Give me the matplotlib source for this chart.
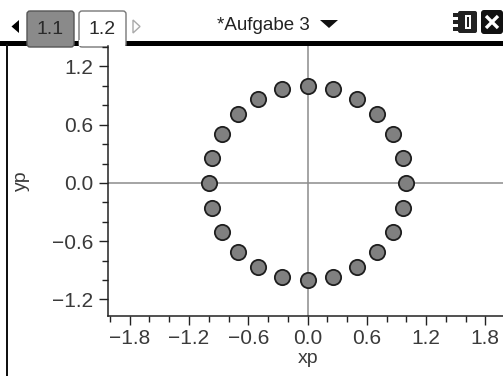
import matplotlib.pyplot as plt
from matplotlib.patches import FancyBboxPatch, Polygon, Rectangle
from matplotlib.ticker import MultipleLocator

plt.rcParams['font.family'] = ['Liberation Sans', 'DejaVu Sans']

# points of the list xp / yp (24 points, 15 degree steps on the unit circle)
xp = [1.0, 0.966, 0.866, 0.707, 0.5, 0.259, 0.0, -0.259, -0.5, -0.707, -0.866, -0.966,
      -1.0, -0.966, -0.866, -0.707, -0.5, -0.259, 0.0, 0.259, 0.5, 0.707, 0.866, 0.966]
yp = [0.0, 0.259, 0.5, 0.707, 0.866, 0.966, 1.0, 0.966, 0.866, 0.707, 0.5, 0.259,
      0.0, -0.259, -0.5, -0.707, -0.866, -0.966, -1.0, -0.966, -0.866, -0.707, -0.5, -0.259]

x_ticks = [-1.8, -1.2, -0.6, 0.0, 0.6, 1.2, 1.8]
y_ticks = [-1.2, -0.6, 0.0, 0.6, 1.2]
tabs = ['1.1', '1.2']
title = '*Aufgabe 3'

W, H = 503, 376
fig = plt.figure(figsize=(W / 100, H / 100), dpi=100)
fig.patch.set_facecolor('white')

# screen frame drawn in pixel units
ui = fig.add_axes([0, 0, 1, 1], zorder=0)
ui.set_xlim(0, W)
ui.set_ylim(H, 0)
ui.axis('off')

# black bar under the tab row, open below the active tab
ui.add_patch(Rectangle((0, 41), W, 4.5, color='black', lw=0))
# left frame line
ui.add_patch(Rectangle((6, 44), 2.2, H - 44, color='#111111', lw=0))

# page tabs
ui.add_patch(FancyBboxPatch((27, 11), 47, 36, boxstyle='round,pad=0,rounding_size=3',
                            fc='#8a8a8a', ec='#555555', lw=1.0, zorder=2))
ui.add_patch(FancyBboxPatch((79, 11), 47, 36, boxstyle='round,pad=0,rounding_size=3',
                            fc='white', ec='#777777', lw=1.0, zorder=2))
ui.add_patch(Rectangle((79.5, 40), 46, 6, color='white', lw=0, zorder=3))
ui.text(50.5, 29, tabs[0], ha='center', va='center', fontsize=14, color='#2a2a2a', zorder=4)
ui.text(102.5, 29, tabs[1], ha='center', va='center', fontsize=14, color='#2a2a2a', zorder=4)
ui.add_patch(Polygon([(19, 20), (19, 33), (11.5, 26.5)], closed=True, color='black', lw=0))
ui.add_patch(Polygon([(133, 20), (133, 33), (140, 26.5)], closed=True, fc='white',
                     ec='#aaaaaa', lw=1.0))

# document title
ui.text(263.5, 25.5, title, ha='center', va='center', fontsize=13.5, color='#222222')
ui.add_patch(Polygon([(320, 20), (338, 20), (329, 28)], closed=True, color='#111111', lw=0))

# battery / close icons
ui.add_patch(FancyBboxPatch((458, 11), 19, 22, boxstyle='round,pad=0,rounding_size=2',
                            fc='#222222', ec='none'))
ui.add_patch(Rectangle((465, 15), 6, 14, fc='white', ec='none'))
ui.add_patch(Rectangle((467, 17), 2, 10, fc='#222222', ec='none'))
for yy in (13, 20, 27):
    ui.add_patch(Rectangle((453, yy), 6, 4, color='#222222', lw=0))
ui.add_patch(FancyBboxPatch((481, 10), 22, 24, boxstyle='round,pad=0,rounding_size=3',
                            fc='#111111', ec='none'))
ui.plot([486, 498], [16, 28], color='white', lw=2.4, solid_capstyle='butt')
ui.plot([486, 498], [28, 16], color='white', lw=2.4, solid_capstyle='butt')

# scatter plot
ax = fig.add_axes([108 / W, 1 - 316 / H, 1 - 108 / W + 0.01, (316 - 46) / H], zorder=1)
ax.set_xlim(-2.02, 2.03)
ax.set_ylim(-1.37, 1.41)

ax.axhline(0, color='#8c8c8c', lw=1.1, zorder=1)
ax.axvline(0, color='#8c8c8c', lw=1.1, zorder=1)
ax.plot(xp, yp, 'o', ms=11, mfc='#808080', mec='#1e1e1e', mew=1.3, zorder=3)

for side in ('top', 'right'):
    ax.spines[side].set_visible(False)
for side in ('left', 'bottom'):
    ax.spines[side].set_linewidth(1.1)
    ax.spines[side].set_color('#222222')

ax.set_xticks(x_ticks)
ax.set_yticks(y_ticks)
ax.set_xticklabels([f'{v:.1f}'.replace('-', '\u2212') for v in x_ticks])
ax.set_yticklabels([f'{v:.1f}'.replace('-', '\u2212') for v in y_ticks])
ax.xaxis.set_minor_locator(MultipleLocator(0.2))
ax.yaxis.set_minor_locator(MultipleLocator(0.2))
ax.tick_params(which='major', length=6.5, width=1.0, color='#222222', labelsize=15,
               labelcolor='#3a3a3a')
ax.tick_params(axis='x', which='major', pad=3)
ax.tick_params(axis='y', which='major', pad=4)
ax.tick_params(which='minor', length=4, width=1.0, color='#222222')

ax.set_xlabel('xp', fontsize=14, color='#3a3a3a', labelpad=1)
ax.set_ylabel('yp', fontsize=14, color='#3a3a3a', labelpad=16)

fig.savefig('out.png', dpi=100)
